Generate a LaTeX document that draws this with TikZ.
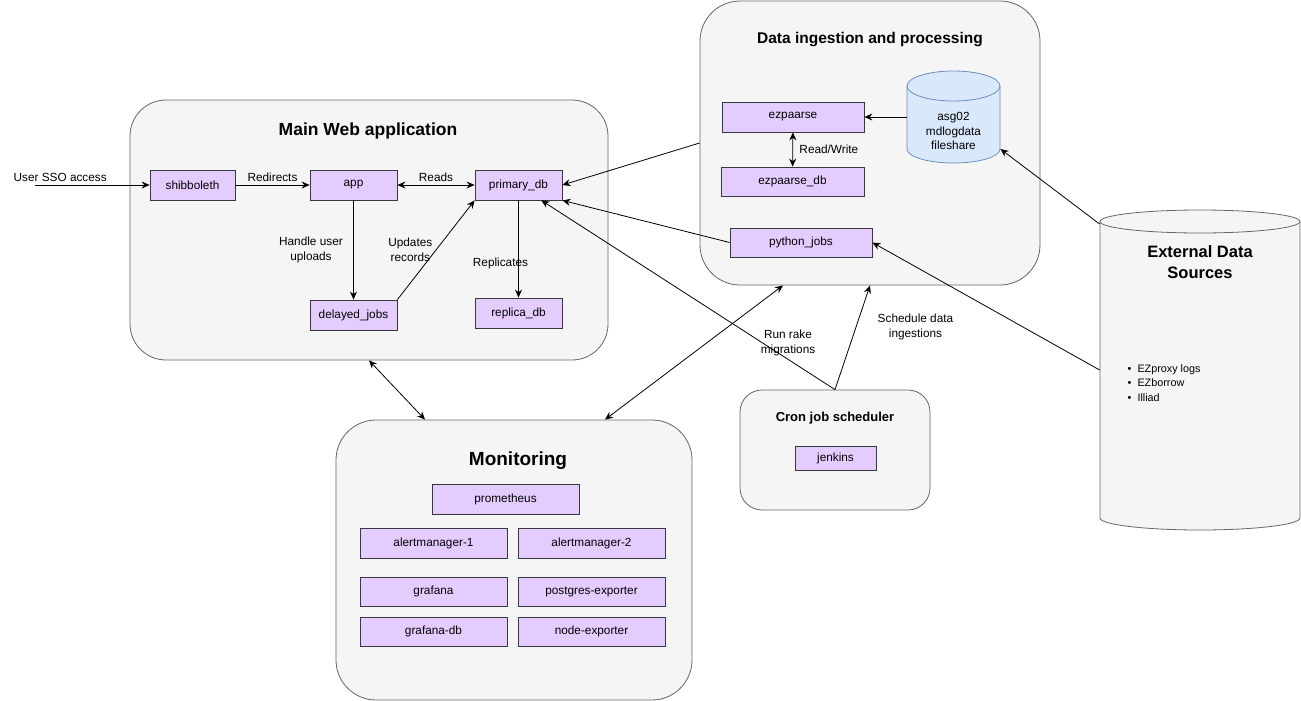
\documentclass[tikz,border=0pt]{standalone}
\usepackage{fontspec}
\setmainfont{Liberation Sans}
\usetikzlibrary{arrows.meta}
\definecolor{grpfill}{HTML}{F5F5F5}
\definecolor{grpline}{HTML}{666666}
\definecolor{svcfill}{HTML}{E5CCFF}
\definecolor{svcline}{HTML}{36393D}
\definecolor{dbfill}{HTML}{DAE8FC}
\definecolor{dbline}{HTML}{6C8EBF}
\begin{document}
\begin{tikzpicture}[>={Stealth[length=8pt,width=7pt]},x=1pt,y=-1pt,line width=.8pt,
		grp/.style={draw=grpline,fill=grpfill,rounded corners=#1,inner sep=0pt},
		svc/.style={draw=svcline,fill=svcfill,inner sep=0pt,minimum height=30pt,font=\fontsize{11.8}{15}\selectfont},
		lbl/.style={font=\fontsize{11.8}{15}\selectfont,align=center},
		ttl/.style={font=\bfseries\fontsize{#1}{#1}\selectfont,align=center}]
	\useasboundingbox (0,0) rectangle (1301,701);
	% cac khoi lon
	\node[grp=36pt,minimum width=478pt,minimum height=260pt] (main) at (369,230) {};
	\node[grp=40pt,minimum width=340pt,minimum height=284pt] (ingest) at (870,143) {};
	\node[grp=40pt,minimum width=356pt,minimum height=280pt] (mon) at (514,560) {};
	\node[grp=22pt,minimum width=190pt,minimum height=120pt] (cron) at (835,450) {};
	% hai hinh tru
	\node[minimum width=200pt,minimum height=320pt,inner sep=0pt] (ext) at (1200,370) {};
	\draw[draw=grpline,fill=grpfill] (1100,221.5) -- (1100,518)
		arc[start angle=180,end angle=360,x radius=100pt,y radius=12pt] -- (1300,221.5)
		arc[start angle=0,end angle=180,x radius=100pt,y radius=11.5pt] -- cycle;
	\draw[draw=grpline] (1100,221.5) arc[start angle=180,end angle=360,x radius=100pt,y radius=11.5pt];
	\node[minimum width=93pt,minimum height=91pt,inner sep=0pt] (asg) at (953.5,117) {};
	\draw[draw=dbline,fill=dbfill] (907,86) -- (907,149)
		arc[start angle=180,end angle=360,x radius=46.5pt,y radius=14pt] -- (1000,86)
		arc[start angle=0,end angle=180,x radius=46.5pt,y radius=15pt] -- cycle;
	\draw[draw=dbline] (907,86) arc[start angle=180,end angle=360,x radius=46.5pt,y radius=15pt];
	% tieu de
	\node[ttl=17.5] (mainttl) at (368,131) {Main Web application};
	\node[ttl=15.5] (ingestttl) at (870,40) {Data ingestion and processing};
	\node[ttl=19] (monttl) at (518,461) {Monitoring};
	\node[ttl=13] (cronttl) at (835,418) {Cron job scheduler};
	\node[ttl=16.5,text height=12pt,font=\bfseries\fontsize{16.5}{21}\selectfont] (extttl) at (1200,273) {External Data\\Sources};
	\node[lbl,font=\fontsize{11.8}{14.5}\selectfont] (asgtxt) at (953.5,131) {asg02\\mdlogdata\\fileshare};
	\node[font=\fontsize{10.8}{14.5}\selectfont,align=left,anchor=west] (extlist) at (1124,383) {\textbullet\hspace{6pt}EZproxy logs\\\textbullet\hspace{6pt}EZborrow\\\textbullet\hspace{6pt}Illiad};
	% cac dich vu
	\node[svc,minimum width=85pt] (shib) at (192.5,185) {shibboleth};
	\node[svc,minimum width=87pt] (app) at (353.5,185) {app};
	\node[svc,minimum width=87pt] (prim) at (518.5,185) {primary\_db};
	\node[svc,minimum width=87pt] (delayed) at (353.5,315) {delayed\_jobs};
	\node[svc,minimum width=87pt] (replica) at (518.5,313) {replica\_db};
	\node[svc,minimum width=142pt] (ezp) at (793,117) {ezpaarse};
	\node[svc,minimum width=143pt,minimum height=29pt] (ezpdb) at (792.5,181.5) {ezpaarse\_db};
	\node[svc,minimum width=142pt,minimum height=29pt] (python) at (801,242.5) {python\_jobs};
	\node[svc,minimum width=147pt] (prom) at (505.5,499) {prometheus};
	\node[svc,minimum width=147pt] (am1) at (433.5,543) {alertmanager-1};
	\node[svc,minimum width=147pt] (am2) at (591.5,543) {alertmanager-2};
	\node[svc,minimum width=147pt,minimum height=29pt] (graf) at (433.5,591.5) {grafana};
	\node[svc,minimum width=147pt,minimum height=29pt] (pgexp) at (591.5,591.5) {postgres-exporter};
	\node[svc,minimum width=147pt,minimum height=29pt] (gdb) at (433.5,631.5) {grafana-db};
	\node[svc,minimum width=147pt,minimum height=29pt] (nexp) at (591.5,631.5) {node-exporter};
	\node[svc,minimum width=81pt,minimum height=24pt] (jenkins) at (835.5,458) {jenkins};
	% cac mui ten
	\coordinate (sso) at (35,185);
	\draw[->] (sso) -- node[lbl,pos=.22,above]{User SSO access} (shib);
	\draw[->] (shib) -- node[lbl,above]{Redirects} (app);
	\draw[<->] (app) -- node[lbl,above]{Reads} (prim);
	\draw[->] (app) -- node[lbl,left=7pt]{Handle user\\uploads} (delayed);
	\draw[->] (delayed.north east) -- node[lbl,left]{Updates\\records} (prim.south west);
	\draw[->] (prim) -- node[lbl,pos=.65,xshift=-18pt]{Replicates} (replica);
	\draw[->] (ingest.west) -- (prim.east);
	\draw[->] (python.west) -- (prim.south east);
	\draw[->] (cron.north) -- node[lbl,pos=.16,yshift=16pt]{Run rake\\migrations} (prim.-34);
	\draw[->] (cron.north) -- node[lbl,pos=.6,right=18pt]{Schedule data\\ingestions} (ingest.south);
	\draw[<->] (main.south) -- ([xshift=-89pt]mon.north);
	\draw[<->] ([xshift=91pt]mon.north) -- ([xshift=-87pt]ingest.south);
	\draw[->] (asg.west) -- (ezp.east);
	\draw[<->] (ezp) -- node[lbl,right=3pt]{Read/Write} (ezpdb);
	\draw[->] ([yshift=146pt]ext.west) -- ([yshift=-32pt]asg.east);
	\draw[->] (ext.west) -- (python.east);
\end{tikzpicture}
\end{document}
